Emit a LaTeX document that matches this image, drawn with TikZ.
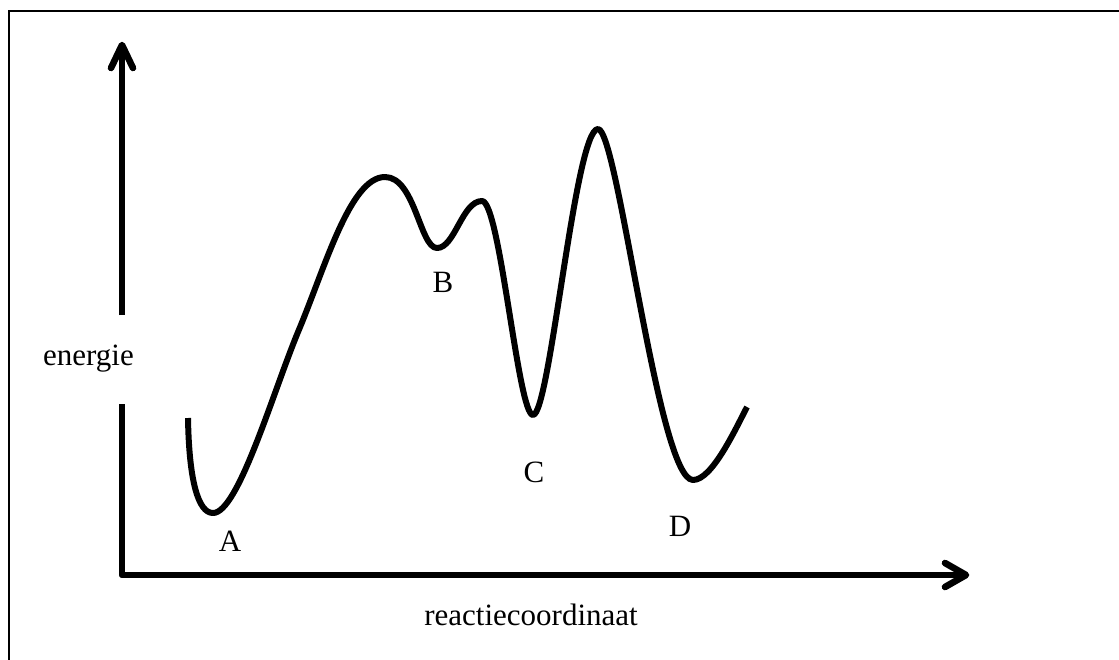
\documentclass[tikz,border=0pt]{standalone}
\usepackage{fontspec}
\setmainfont{Liberation Serif}
\begin{document}
\begin{tikzpicture}[x=1pt,y=-1pt,
  axis/.style={line width=6.5pt,line cap=round,line join=round},
  axisshadow/.style={axis,draw=black!40},
  curve/.style={line width=6pt,line cap=butt,line join=round},
  lbl/.style={font=\fontsize{31}{36}\selectfont,inner sep=0pt}]
\useasboundingbox (0,0) rectangle (1119,659);
\begin{scope}
\clip (0,0) rectangle (1119,659);
\draw[line width=2.4pt] (9,11) rectangle (1130,680);
\end{scope}
% coordinates
\coordinate (O) at (122,575);
\coordinate (ytip) at (122,45);
\coordinate (ygapT) at (122,315);
\coordinate (ygapB) at (122,404);
\coordinate (xtip) at (966,575);
% shadows
\begin{scope}[shift={(3,3.5)}]
\draw[axisshadow,line cap=butt] (ygapB) -- (O) -- (xtip);
\draw[axisshadow,line cap=butt] (ygapT) -- (ytip);
\draw[axisshadow] ([shift={(-11,23)}]ytip) -- (ytip) -- ([shift={(11,23)}]ytip);
\draw[axisshadow] ([shift={(-21,-12)}]xtip) -- (xtip) -- ([shift={(-21,12)}]xtip);
\end{scope}
% axes
\draw[axis,line cap=butt] (ygapB) -- (O) -- (xtip);
\draw[axis,line cap=butt] (ygapT) -- (ytip);
\draw[axis] ([shift={(-11,23)}]ytip) -- (ytip) -- ([shift={(11,23)}]ytip);
\draw[axis] ([shift={(-21,-12)}]xtip) -- (xtip) -- ([shift={(-21,12)}]xtip);
% curve
\draw[curve] (188,418) .. controls (189,480) and (198,513) .. (213,513)
  .. controls (238,513) and (272,395) .. (298,332)
  .. controls (325,268) and (350,177) .. (385,177)
  .. controls (415,177) and (420,248) .. (437,248)
  .. controls (455,248) and (462,201) .. (482,201)
  .. controls (500,201) and (518,415) .. (533,415)
  .. controls (550,415) and (575,129) .. (598,129)
  .. controls (618,129) and (658,480) .. (693,480)
  .. controls (712,480) and (735,430) .. (747,407);
% labels
\node[lbl] (A) at (230,541) {A};
\node[lbl] (B) at (443,282) {B};
\node[lbl] (C) at (534,472) {C};
\node[lbl] (D) at (680,526) {D};
\node[lbl,anchor=east] (ylab) at (134,359) {energie};
\node[lbl] (xlab) at (531,615) {reactiecoordinaat};
\end{tikzpicture}
\end{document}
